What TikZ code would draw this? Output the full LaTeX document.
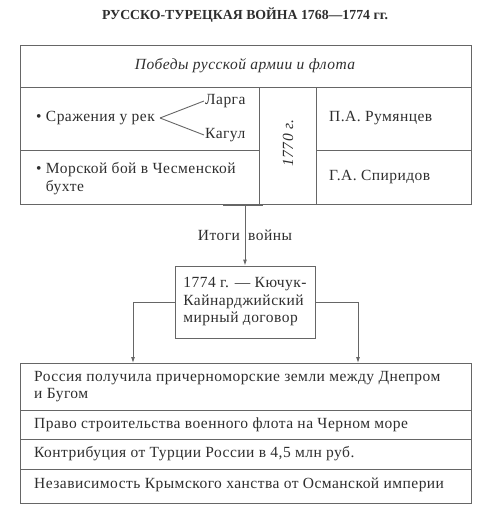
\documentclass[tikz,border=0pt]{standalone}
\usepackage{fontspec}
\setmainfont{Liberation Serif}[LetterSpace=3]
\newfontfamily\titlefont{Liberation Serif}
\usetikzlibrary{positioning,arrows.meta}

\definecolor{linegray}{HTML}{666666}
\definecolor{textgray}{HTML}{2E2E2E}

\tikzset{
  cell/.style={draw=linegray, line width=0.9pt},
  txt/.style={text=textgray, font=\fontsize{15.5}{17.5}\selectfont, inner sep=1pt},
  link/.style={draw=linegray, line width=0.9pt},
  arrow/.style={link, -{Latex[length=6pt,width=4pt]}}
}

\begin{document}
\begin{tikzpicture}[x=1pt,y=-1pt]
        \useasboundingbox (0,0) rectangle (500,531);

        % Title
        \node[txt, font=\fontsize{13.8}{15}\titlefont\bfseries] (title) at (245,15) {РУССКО-ТУРЕЦКАЯ ВОЙНА 1768—1774 гг.};

        % Top table
        \draw[cell] (20,45) rectangle (471,204);
        \draw[cell] (20,87) -- (471,87);
        \draw[cell] (259,87) -- (259,204);
        \draw[cell] (316,87) -- (316,204);
        \draw[cell] (20,150) -- (259,150);
        \draw[cell] (316,150) -- (471,150);

        \node[txt, font=\fontsize{15.5}{17.5}\selectfont\itshape] (victories) at (245,66) {Победы русской армии и флота};

        % Battles
        \node[txt, anchor=west] (rivers) at (35,118) {\textbullet~Сражения у рек};
        \node[txt, anchor=west] (larga) at (204,101) {Ларга};
        \node[txt, anchor=west] (kagul) at (204,135) {Кагул};
        \draw[link] ([xshift=4pt]rivers.east) -- (larga.west);
        \draw[link] ([xshift=4pt]rivers.east) -- (kagul.west);
        \node[txt, anchor=west, align=left] (chesma) at (35,178.5) {\textbullet~Морской бой в Чесменской\\\hphantom{\textbullet~}бухте};

        % Year
        \node[txt, font=\fontsize{15.5}{17.5}\selectfont\itshape, rotate=90] (year) at (288,143) {1770 г.};

        % Commanders
        \node[txt, anchor=west] (rumyantsev) at (328,118) {П.А. Румянцев};
        \node[txt, anchor=west] (spiridov) at (328,177) {Г.А. Спиридов};

        % Results
        \draw[line width=2pt, linegray] (223,205) -- (263,205);
        \coordinate (stem) at (245,205);
        \node[txt, draw=linegray, line width=0.9pt, align=left, inner xsep=3pt, minimum width=140pt, minimum height=72pt] (treaty) at (245,302) {1774 г. — Кючук-\\Кайнарджийский\\мирный договор};
        \draw[arrow] (stem) -- (treaty.north) node[txt, midway] (outcome) {Итоги\hspace{4pt} войны};

        % Bottom table
        \draw[cell] (20,363) rectangle (471,503);
        \draw[cell] (20,410) -- (471,410);
        \draw[cell] (20,439) -- (471,439);
        \draw[cell] (20,469) -- (471,469);
        \coordinate (leftin) at (133,363);
        \coordinate (rightin) at (358,363);
        \draw[arrow] (treaty.west) -| (leftin);
        \draw[arrow] (treaty.east) -| (rightin);

        \node[txt, anchor=west, align=left] (lands) at (33,386.5) {Россия получила причерноморские земли между Днепром\\и Бугом};
        \node[txt, anchor=west] (fleet) at (33,425) {Право строительства военного флота на Черном море};
        \node[txt, anchor=west] (tribute) at (33,454) {Контрибуция от Турции России в 4,5 млн руб.};
        \node[txt, anchor=west] (crimea) at (33,485) {Независимость Крымского ханства от Османской империи};
\end{tikzpicture}
\end{document}
